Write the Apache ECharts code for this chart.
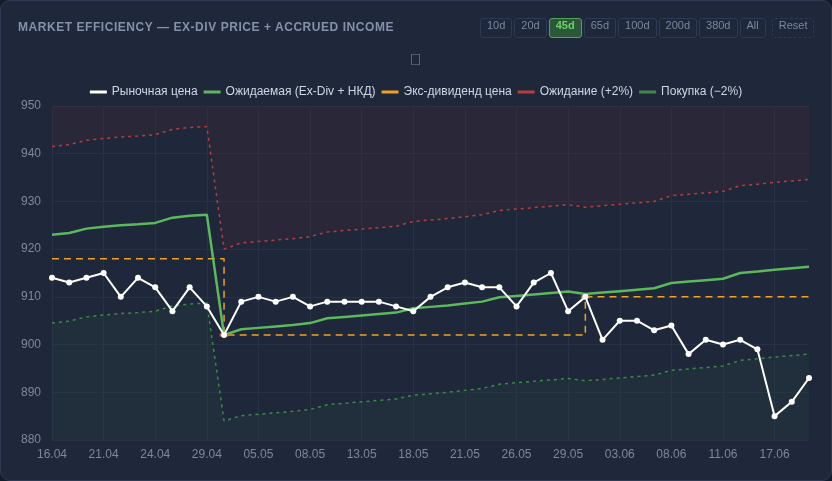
<!DOCTYPE html>
<html>
<head>
<meta charset="utf-8">
<script src="https://cdn.jsdelivr.net/npm/echarts@6/dist/echarts.min.js"></script>
<style>
  html, body { margin: 0; padding: 0; background: #141b2a; }
  #card {
    position: relative; width: 830px; height: 479px;
    background: #1e283a; border: 1px solid #2f3b55; border-radius: 10px; overflow: hidden;
  }
  #title {
    position: absolute; left: 17px; top: 19px;
    font: bold 12px 'Liberation Sans', Arial, sans-serif; letter-spacing: 0.55px;
    color: #8590aa;
  }
  #btns { position: absolute; top: 17px; left: 479px; display: flex; }
  #btns span {
    height: 18px; line-height: 18px; padding: 0 6px; margin-right: 2px;
    border: 1px solid #2b3a58; border-radius: 3px;
    font: 11px 'Liberation Sans', Arial, sans-serif; color: #7c869d;
  }
  #btns span.on { background: #2c5837; border-color: #4fa556; color: #6bd06b; font-weight: bold; }
  #btns span.reset { border-style: dashed; margin-left: 4px; }
  #chart { position: absolute; left: 0; top: 0; width: 830px; height: 479px; }
</style>
</head>
<body>
<div id="card">
  <div id="chart"></div>
  <div id="title">MARKET EFFICIENCY — EX-DIV PRICE + ACCRUED INCOME</div>
  <div id="btns">
    <span>10d</span><span>20d</span><span class="on">45d</span><span>65d</span><span>100d</span><span>200d</span><span>380d</span><span>All</span><span class="reset">Reset</span>
  </div>
</div>
<script>
// dates (45 trading days)
var dates = ['16.04','17.04','18.04','21.04','22.04','23.04','24.04','25.04','28.04','29.04',
  '30.04','02.05','05.05','06.05','07.05','08.05','10.05','12.05','13.05','14.05',
  '15.05','18.05','19.05','20.05','21.05','22.05','23.05','26.05','27.05','28.05',
  '29.05','30.05','02.06','03.06','04.06','05.06','08.06','09.06','10.06','11.06',
  '13.06','16.06','17.06','18.06','19.06'];

var marketPrice = [914,913,914,915,910,914,912,907,912,908,
  902,909,910,909,910,908,909,909,909,909,
  908,907,910,912,913,912,912,908,913,915,
  907,910,901,905,905,903,904,898,901,900,
  901,899,885,888,893];

var expected = [923.0,923.4,924.3,924.7,925.0,925.2,925.5,926.6,927.0,927.2,
  902.0,903.2,903.5,903.8,904.1,904.5,905.5,905.8,906.1,906.4,
  906.7,907.6,907.9,908.2,908.6,909.0,909.9,910.2,910.5,910.8,
  911.1,910.6,910.9,911.2,911.5,911.8,912.9,913.2,913.5,913.8,
  915.0,915.3,915.7,916.0,916.3];

var exDivPrice = [918,918,918,918,918,918,918,918,918,918,
  902,902,902,902,902,902,902,902,902,902,
  902,902,902,902,902,902,902,902,902,902,
  902,910,910,910,910,910,910,910,910,910,
  910,910,910,910,910];

var waitBand = [941.5,941.9,942.8,943.2,943.5,943.7,944.0,945.1,945.5,945.7,
  920.0,921.3,921.6,921.9,922.2,922.6,923.6,923.9,924.2,924.5,
  924.8,925.8,926.1,926.4,926.8,927.2,928.1,928.4,928.7,929.0,
  929.3,928.8,929.1,929.4,929.7,930.0,931.2,931.5,931.8,932.1,
  933.3,933.6,934.0,934.3,934.6];

var buyBand = [904.5,904.9,905.8,906.2,906.5,906.7,907.0,908.1,908.5,908.7,
  884.0,885.1,885.4,885.7,886.0,886.4,887.4,887.7,888.0,888.3,
  888.6,889.4,889.7,890.0,890.4,890.8,891.7,892.0,892.3,892.6,
  892.9,892.4,892.7,893.0,893.3,893.6,894.6,894.9,895.2,895.5,
  896.7,897.0,897.4,897.7,898.0];

// ex-dividend event markers
var exDivEvents = [['30.04', 902], ['30.05', 910]];

var yTicks = [880, 890, 900, 910, 920, 930, 940, 950];

var chart = echarts.init(document.getElementById('chart'));
var font = "'Liberation Sans', Arial, sans-serif";
var option = {
  backgroundColor: 'transparent',
  animation: false,
  textStyle: { fontFamily: font },
  graphic: [{
    type: 'text', left: 'center', top: 52,
    style: { text: '\uE001', fill: '#7a86a0', font: '16px ' + font }
  }],
  legend: {
    top: 80, left: 'center', itemWidth: 17, itemHeight: 3, itemGap: 6,
    icon: 'rect',
    textStyle: { color: '#cfd6e4', fontSize: 12, fontFamily: font },
    data: ['Рыночная цена', 'Ожидаемая (Ex-Div + НКД)', 'Экс-дивиденд цена', 'Ожидание (+2%)', 'Покупка (−2%)']
  },
  grid: { left: 51, right: 22, top: 105, bottom: 40 },
  xAxis: {
    type: 'category', data: dates, boundaryGap: false,
    axisLine: { show: false }, axisTick: { show: false },
    axisLabel: { interval: 2, color: '#7d879e', fontSize: 12, margin: 9 },
    splitLine: { show: true, interval: 2, lineStyle: { color: '#273247', width: 1 } }
  },
  yAxis: {
    type: 'value', min: yTicks[0], max: yTicks[yTicks.length - 1], interval: 10,
    axisLine: { show: false }, axisTick: { show: false },
    axisLabel: { color: '#7d879e', fontSize: 12, margin: 11 },
    splitLine: { lineStyle: { color: '#273247', width: 1 } }
  },
  series: [
    {
      name: 'Ожидание (+2%)', type: 'line', data: waitBand, symbol: 'none',
      color: '#b83d3d',
      lineStyle: { color: '#b83d3d', width: 1.5, type: [3, 4] },
      areaStyle: { origin: 'end', color: 'rgba(70,40,55,0.45)' },
      z: 1
    },
    {
      name: 'Покупка (−2%)', type: 'line', data: buyBand, symbol: 'none',
      color: '#3c8a46',
      lineStyle: { color: '#3c8a46', width: 1.5, type: [3, 4] },
      areaStyle: { origin: 'start', color: 'rgba(40,70,65,0.35)' },
      z: 1
    },
    {
      name: 'Экс-дивиденд цена', type: 'line', data: exDivPrice, step: 'end', symbol: 'none',
      color: '#f0a023',
      lineStyle: { color: '#f0a023', width: 1.5, type: [7, 5] },
      z: 2
    },
    {
      name: 'Ожидаемая (Ex-Div + НКД)', type: 'line', data: expected, symbol: 'none',
      color: '#5cb85c',
      lineStyle: { color: '#5cb85c', width: 2.5 },
      z: 3
    },
    {
      name: 'Рыночная цена', type: 'line', data: marketPrice,
      symbol: 'circle', symbolSize: 6,
      color: '#ffffff',
      itemStyle: { color: '#ffffff' },
      lineStyle: { color: '#ffffff', width: 2 },
      z: 5
    },
    {
      name: 'exdiv', type: 'scatter', data: exDivEvents,
      symbol: 'rect', symbolSize: [9, 3],
      itemStyle: { color: '#e8673a' },
      z: 4
    }
  ]
};
chart.setOption(option);
</script>
</body>
</html>
